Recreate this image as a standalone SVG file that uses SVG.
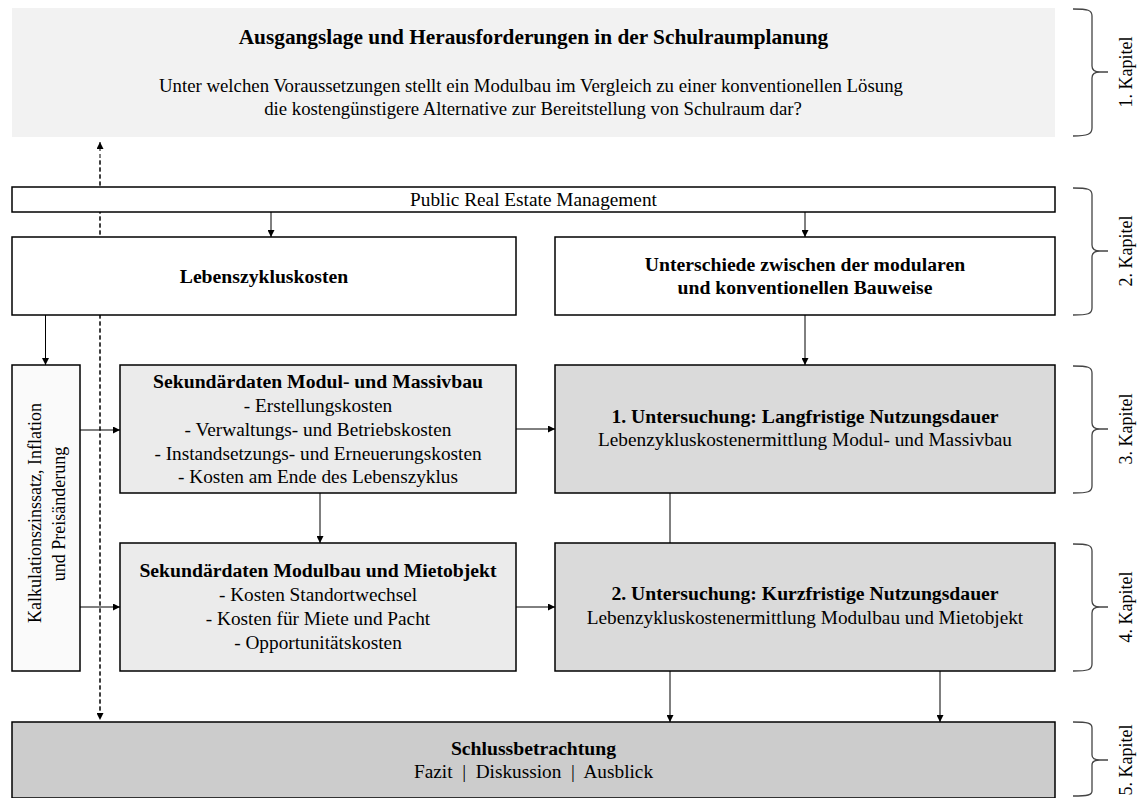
<svg xmlns="http://www.w3.org/2000/svg" width="1139" height="798" viewBox="0 0 1139 798">
<defs>
<marker id="ah" viewBox="0 0 10 10" refX="10" refY="5" markerWidth="7" markerHeight="7" orient="auto" markerUnits="userSpaceOnUse"><path d="M0,0 L10,5 L0,10 z" fill="#000"/></marker>
<style>
text{font-family:"Liberation Serif","Times New Roman",serif;font-size:19.3px;fill:#000;text-anchor:middle}
.b{font-weight:bold;font-size:19.7px}
.t{font-weight:bold;font-size:21.3px}
.s{font-size:18.8px}
.r{font-size:18px}
.box{stroke:#000;stroke-width:1.5}
.con{stroke:#000;stroke-width:1;fill:none}
.dash{stroke:#000;stroke-width:1;stroke-dasharray:4 3;fill:none}
.brace{stroke:#444;stroke-width:1.3;fill:none}
</style>
</defs>
<rect width="1139" height="798" fill="#fff"/>
<g id="connectors">
<line class="dash" x1="100" y1="718" x2="100" y2="142" marker-end="url(#ah)"/>
<line class="dash" x1="100" y1="160" x2="100" y2="720" marker-end="url(#ah)"/>
<line class="con" x1="271" y1="212" x2="271" y2="237" marker-end="url(#ah)"/>
<line class="con" x1="805" y1="212" x2="805" y2="237" marker-end="url(#ah)"/>
<line class="con" x1="45.5" y1="315" x2="45.5" y2="365" marker-end="url(#ah)"/>
<line class="con" x1="805" y1="315" x2="805" y2="365" marker-end="url(#ah)"/>
<line class="con" x1="80" y1="430" x2="120" y2="430" marker-end="url(#ah)"/>
<line class="con" x1="80" y1="607" x2="120" y2="607" marker-end="url(#ah)"/>
<line class="con" x1="516" y1="429" x2="555" y2="429" marker-end="url(#ah)"/>
<line class="con" x1="516" y1="607" x2="555" y2="607" marker-end="url(#ah)"/>
<line class="con" x1="320" y1="493" x2="320" y2="543" marker-end="url(#ah)"/>
<line class="con" x1="670" y1="493" x2="670" y2="543"/>
<line class="con" x1="670" y1="671" x2="670" y2="722" marker-end="url(#ah)"/>
<line class="con" x1="940" y1="671" x2="940" y2="722" marker-end="url(#ah)"/>
</g>
<g id="n-ausgangslage">
<rect x="12" y="8" width="1043" height="129" fill="#f2f2f2"/>
<text class="t" x="533.5" y="44">Ausgangslage und Herausforderungen in der Schulraumplanung</text>
<text class="s" x="531" y="92">Unter welchen Voraussetzungen stellt ein Modulbau im Vergleich zu einer konventionellen Lösung</text>
<text class="s" x="533" y="115">die kostengünstigere Alternative zur Bereitstellung von Schulraum dar?</text>
</g>
<g id="n-prem">
<rect class="box" x="12" y="187" width="1043" height="25" fill="#fff"/>
<text x="533.5" y="206">Public Real Estate Management</text>
</g>
<g id="n-lebenszykluskosten">
<rect class="box" x="12" y="237" width="504" height="78" fill="#fff"/>
<text class="b" x="264" y="283">Lebenszykluskosten</text>
</g>
<g id="n-unterschiede">
<rect class="box" x="555" y="237" width="500" height="78" fill="#fff"/>
<text class="b" x="805" y="271">Unterschiede zwischen der modularen</text>
<text class="b" x="805" y="294">und konventionellen Bauweise</text>
</g>
<g id="n-kalkulation">
<rect class="box" x="12" y="365" width="68" height="306" fill="#fafafa"/>
<text class="r" transform="translate(41,513) rotate(-90)">Kalkulationszinssatz, Inflation</text>
<text class="r" transform="translate(65,514) rotate(-90)">und Preisänderung</text>
</g>
<g id="n-sek-modul-massiv">
<rect class="box" x="120" y="365" width="396" height="128" fill="#ebebeb"/>
<text class="b" x="318" y="388">Sekundärdaten Modul- und Massivbau</text>
<text x="318" y="412">- Erstellungskosten</text>
<text x="318" y="436">- Verwaltungs- und Betriebskosten</text>
<text x="318" y="460">- Instandsetzungs- und Erneuerungskosten</text>
<text x="318" y="483">- Kosten am Ende des Lebenszyklus</text>
</g>
<g id="n-sek-modul-miet">
<rect class="box" x="120" y="543" width="396" height="128" fill="#ebebeb"/>
<text class="b" x="318" y="577">Sekundärdaten Modulbau und Mietobjekt</text>
<text x="318" y="601">- Kosten Standortwechsel</text>
<text x="318" y="625">- Kosten für Miete und Pacht</text>
<text x="318" y="649">- Opportunitätskosten</text>
</g>
<g id="n-untersuchung1">
<rect class="box" x="555" y="365" width="500" height="128" fill="#dadada"/>
<text class="b" x="805" y="423">1. Untersuchung: Langfristige Nutzungsdauer</text>
<text x="805" y="446">Lebenzykluskostenermittlung Modul- und Massivbau</text>
</g>
<g id="n-untersuchung2">
<rect class="box" x="555" y="543" width="500" height="128" fill="#dadada"/>
<text class="b" x="805" y="600">2. Untersuchung: Kurzfristige Nutzungsdauer</text>
<text x="805" y="624">Lebenzykluskostenermittlung Modulbau und Mietobjekt</text>
</g>
<g id="n-schluss">
<rect class="box" x="12" y="722" width="1043" height="76" fill="#ccc"/>
<text class="b" x="533.5" y="755">Schlussbetrachtung</text>
<text x="533.5" y="778" xml:space="preserve" style="white-space:pre">Fazit  |  Diskussion  |  Ausblick</text>
</g>
<g id="chapters">
<path class="brace" d="M1073,9 C1088,9 1092,10 1092,16 L1092,66 C1092,70 1094,72 1100,72 C1094,72 1092,74 1092,78 L1092,128 C1092,134 1088,136 1073,136 M1100,72 L1108,72"/>
<text class="r" transform="translate(1132,72) rotate(-90)">1. Kapitel</text>
<path class="brace" d="M1073,188 C1088,188 1092,189 1092,195 L1092,245 C1092,249 1094,251 1100,251 C1094,251 1092,253 1092,257 L1092,308 C1092,314 1088,315 1073,315 M1100,251 L1108,251"/>
<text class="r" transform="translate(1132,251) rotate(-90)">2. Kapitel</text>
<path class="brace" d="M1073,366 C1088,366 1092,367 1092,373 L1092,423 C1092,427 1094,429 1100,429 C1094,429 1092,431 1092,435 L1092,486 C1092,492 1088,493 1073,493 M1100,429 L1108,429"/>
<text class="r" transform="translate(1132,429) rotate(-90)">3. Kapitel</text>
<path class="brace" d="M1073,544 C1088,544 1092,545 1092,551 L1092,601 C1092,605 1094,607 1100,607 C1094,607 1092,609 1092,613 L1092,664 C1092,670 1088,671 1073,671 M1100,607 L1108,607"/>
<text class="r" transform="translate(1132,607) rotate(-90)">4. Kapitel</text>
<path class="brace" d="M1073,722 C1088,722 1092,723 1092,728 L1092,755 C1092,758 1094,760 1100,760 C1094,760 1092,762 1092,765 L1092,791 C1092,795 1088,796 1073,796 M1100,760 L1108,760"/>
<text class="r" transform="translate(1132,760) rotate(-90)">5. Kapitel</text>
</g>
</svg>
